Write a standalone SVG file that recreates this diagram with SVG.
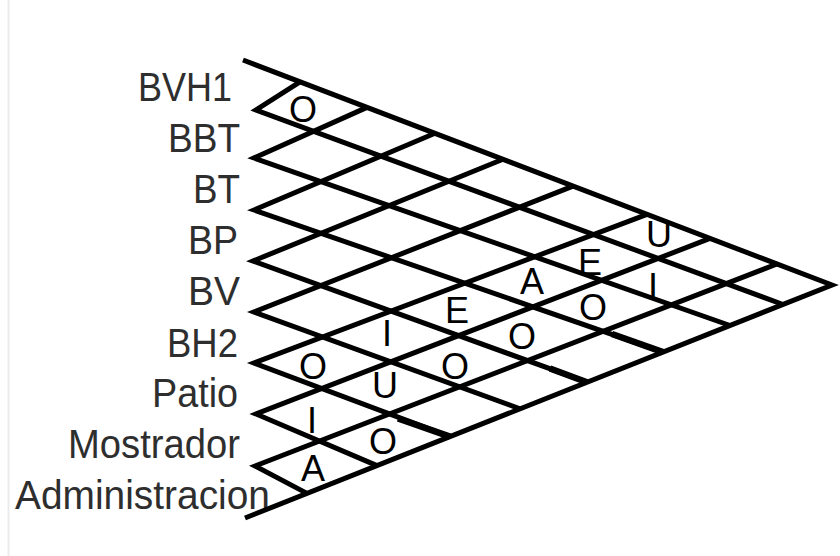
<svg xmlns="http://www.w3.org/2000/svg" width="840" height="556" viewBox="0 0 840 556">
  <style>
    .grid { fill: none; stroke: #000; stroke-width: 5; stroke-linejoin: miter; stroke-miterlimit: 6; }
    .heavy { stroke: #000; stroke-width: 6.5; stroke-linecap: butt; }
    .label { font-family: "Liberation Sans", Arial, sans-serif; font-size: 40px; fill: #2e2e2e; text-anchor: end; }
    .mark { font-family: "Liberation Sans", Arial, sans-serif; font-size: 36px; fill: #000; text-anchor: middle; }
  </style>
  <rect width="840" height="556" fill="#fff"/>
  <line x1="8.5" y1="0" x2="8.5" y2="556" stroke="#ececec" stroke-width="2"/>

  <!-- row labels -->
  <g id="labels">
    <text id="lbl-bvh1" class="label" x="232" y="101" textLength="94" lengthAdjust="spacingAndGlyphs">BVH1</text>
    <text id="lbl-bbt" class="label" x="240" y="152" textLength="72" lengthAdjust="spacingAndGlyphs">BBT</text>
    <text id="lbl-bt" class="label" x="240" y="203" textLength="47" lengthAdjust="spacingAndGlyphs">BT</text>
    <text id="lbl-bp" class="label" x="238" y="254" textLength="50" lengthAdjust="spacingAndGlyphs">BP</text>
    <text id="lbl-bv" class="label" x="240" y="305" textLength="52" lengthAdjust="spacingAndGlyphs">BV</text>
    <text id="lbl-bh2" class="label" x="238" y="357" textLength="71" lengthAdjust="spacingAndGlyphs">BH2</text>
    <text id="lbl-patio" class="label" x="238" y="407" textLength="86" lengthAdjust="spacingAndGlyphs">Patio</text>
    <text id="lbl-mostrador" class="label" x="240" y="458" textLength="172" lengthAdjust="spacingAndGlyphs">Mostrador</text>
    <text id="lbl-admin" class="label" x="270" y="509" textLength="255" lengthAdjust="spacingAndGlyphs">Administracion</text>
  </g>

  <!-- triangular grid: outer border plus one zigzag (up-right + down-right) per row notch -->
  <g id="grid">
    <polyline class="grid" points="243,60 832,285 245,518"/>
    <polyline class="grid" points="300,81.8 256,110 783,304.5"/>
    <polyline class="grid" points="367,107.4 254,158 730,325.5"/>
    <polyline class="grid" points="435,133.3 254,210 663,352.1"/>
    <polyline class="grid" points="503,159.3 253,261 587,382.2"/>
    <polyline class="grid" points="573,186.1 254,312 520,408.8"/>
    <polyline class="grid" points="647,214.3 254,363 450,436.6"/>
    <polyline class="grid" points="710,238.4 256,414 377,465.6"/>
    <polyline class="grid" points="777,264 255,466 307,493.4"/>
    <!-- heavier stroke on a few line ends at the lower border -->
    <line class="heavy" x1="398" y1="418.5" x2="450" y2="436.6"/>
    <line class="heavy" x1="550" y1="368.5" x2="587" y2="382.2"/>
    <line class="heavy" x1="612" y1="334" x2="663" y2="352.1"/>
  </g>

  <!-- relationship codes -->
  <g id="codes">
    <text id="c-0-1" class="mark" x="303" y="122">O</text>
    <text id="c-0-6" class="mark" x="659" y="247">U</text>
    <text id="c-1-6" class="mark" x="590" y="275">E</text>
    <text id="c-1-7" class="mark" x="653" y="299">I</text>
    <text id="c-2-6" class="mark" x="532" y="294">A</text>
    <text id="c-2-7" class="mark" x="593" y="320">O</text>
    <text id="c-3-6" class="mark" x="457" y="323">E</text>
    <text id="c-3-7" class="mark" x="522" y="349">O</text>
    <text id="c-4-6" class="mark" x="387" y="346">I</text>
    <text id="c-4-7" class="mark" x="455" y="379">O</text>
    <text id="c-5-6" class="mark" x="313" y="379">O</text>
    <text id="c-5-7" class="mark" x="385" y="398">U</text>
    <text id="c-6-7" class="mark" x="312" y="433">I</text>
    <text id="c-6-8" class="mark" x="383" y="454">O</text>
    <text id="c-7-8" class="mark" x="313" y="481">A</text>
  </g>
</svg>
